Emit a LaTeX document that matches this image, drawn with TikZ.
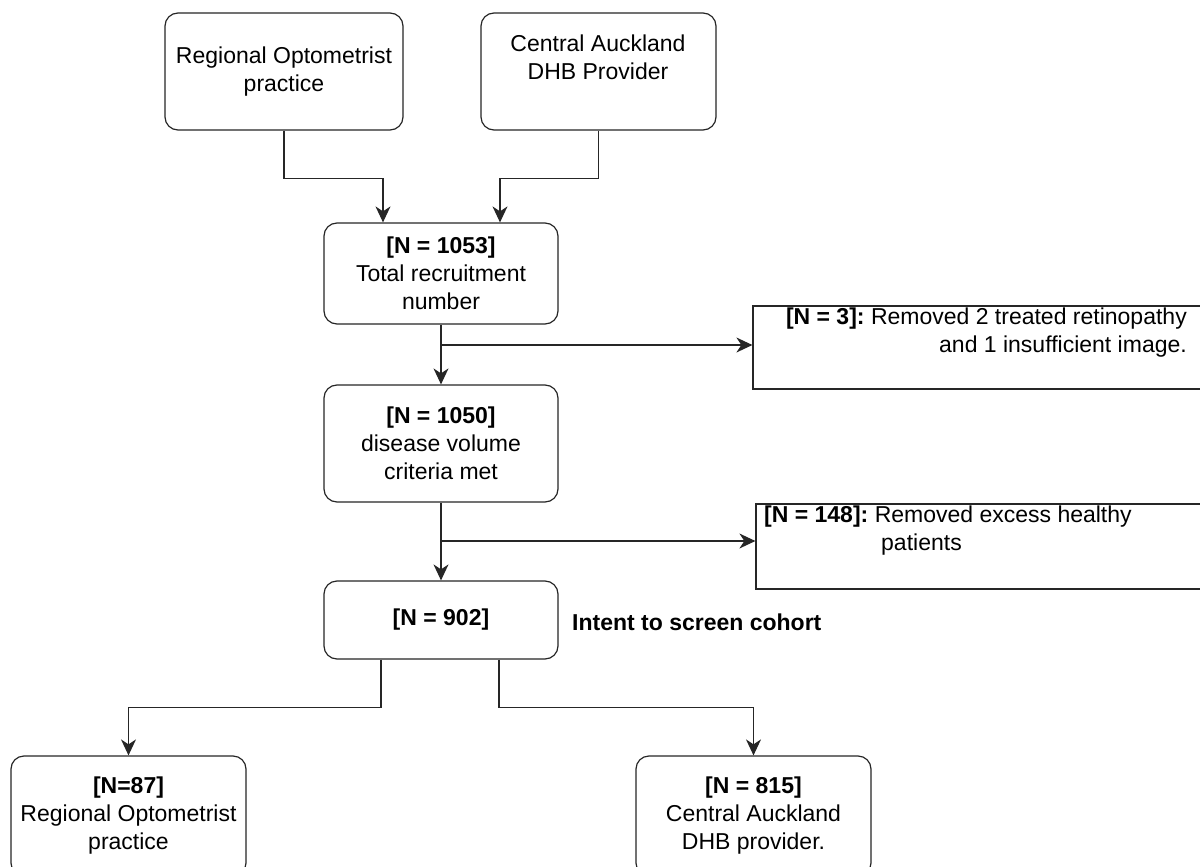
\documentclass[tikz,border=0pt]{standalone}
\usepackage{fontspec}
\setmainfont{Liberation Sans}
\usetikzlibrary{arrows.meta}
\begin{document}
\frenchspacing
\begin{tikzpicture}[x=1pt,y=-1pt,
  box/.style={draw=black!85, line width=1.2pt, rounded corners=13pt, inner sep=0pt, align=center, font=\fontsize{23}{28}\selectfont, fill=white},
  sq/.style={draw=black!85, line width=1.2pt, inner sep=0pt},
  txt/.style={inner sep=0pt, font=\fontsize{23}{28}\selectfont},
  arr/.style={draw=black!85, line width=1.2pt, -{Stealth[length=16pt,width=15pt,inset=5pt]}}]
\useasboundingbox (0,0) rectangle (1200,867);
\clip (0,0) rectangle (1200,867);

\node[box, minimum width=238, minimum height=117] (b1) at (284,71.5) {Regional Optometrist\\practice};
\node[box, minimum width=235, minimum height=117] (b2) at (598.5,71.5) {};
\node[txt, align=center] (t2) at (598,57.5) {Central Auckland\\DHB Provider};
\node[box, minimum width=234, minimum height=101] (b3) at (441,273.5) {\textbf{[N = 1053]}\\Total recruitment\\number};
\node[box, minimum width=234, minimum height=117] (b5) at (441,443.5) {\textbf{[N = 1050]}\\disease volume\\criteria met};
\node[box, minimum width=234, minimum height=78] (b7) at (441,620) {\textbf{[N = 902]}};
\node[txt, anchor=west, font=\fontsize{23}{28}\selectfont\bfseries] (intent) at (572,622) {Intent to screen cohort};

\node[sq, minimum width=497, minimum height=83] (bA) at (1001.5,347.5) {};
\node[txt, align=right, anchor=east] (tA) at (1187,333) {\textbf{[N = 3]:} Removed 2 treated retinopathy\\and 1 insufficient image.};
\node[sq, minimum width=494, minimum height=85] (bB) at (1003,546.5) {};
\node[txt, align=left, anchor=west] (tB) at (764,531) {\textbf{[N = 148]:} Removed excess healthy\\\hspace*{117pt}patients};

\node[box, minimum width=235, minimum height=120] (b9) at (128.5,816) {\textbf{[N=87]}\\Regional Optometrist\\practice};
\node[box, minimum width=235, minimum height=120] (b10) at (753.5,816) {\textbf{[N = 815]}\\Central Auckland\\DHB provider.};

\draw[arr] (b1.south) -- ++(0,48) -| ([xshift=-58pt]b3.north);
\draw[arr] (b2.south) -- ++(0,48) -| ([xshift=59pt]b3.north);
\draw[arr] (b3.south) -- (b5.north);
\coordinate (j1) at (441,345);
\draw[arr] (j1) -- (j1 -| bA.west);
\draw[arr] (b5.south) -- (b7.north);
\coordinate (j2) at (441,541);
\draw[arr] (j2) -- (j2 -| bB.west);
\draw[arr] ([xshift=-60pt]b7.south) -- ++(0,48) -| (b9.north);
\draw[arr] ([xshift=58pt]b7.south) -- ++(0,48) -| (b10.north);
\end{tikzpicture}
\end{document}
